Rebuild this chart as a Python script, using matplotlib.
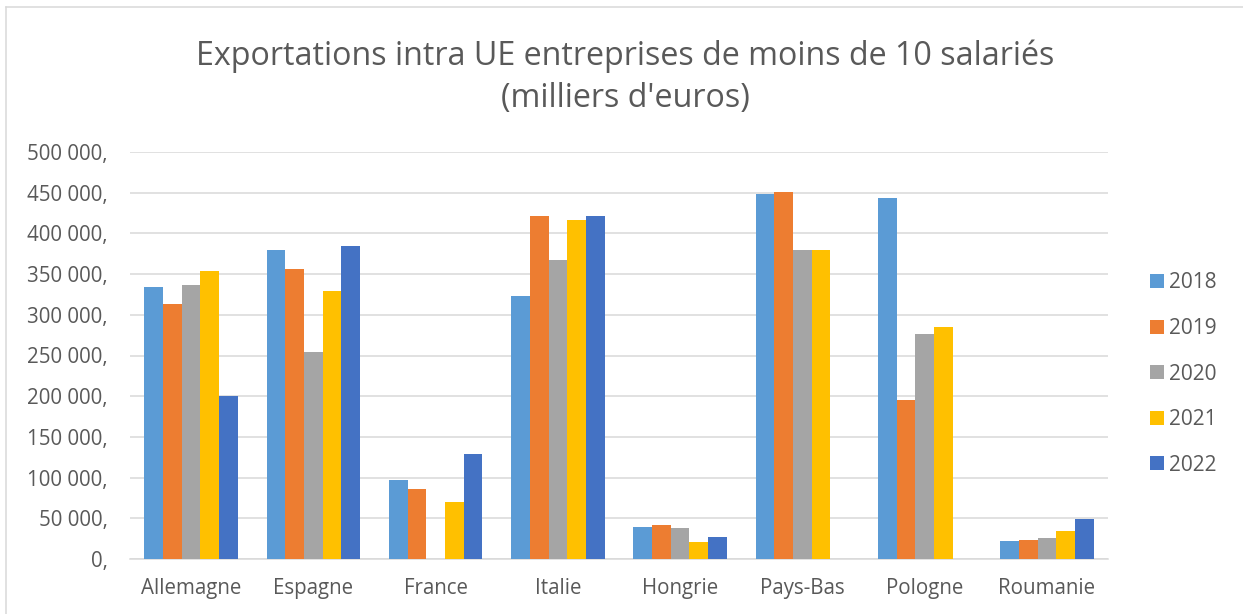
import numpy as np
import matplotlib
matplotlib.use("Agg")
import matplotlib.pyplot as plt
from matplotlib.lines import Line2D
from matplotlib.ticker import FuncFormatter

COUNTRIES = ["Allemagne", "Espagne", "France", "Italie", "Hongrie",
             "Pays-Bas", "Pologne", "Roumanie"]
YEARS = ["2018", "2019", "2020", "2021", "2022"]

# milliers d'euros, nan = missing value (no bar)
V2018 = [334000, 380000, 97300, 323000, 39000, 449000, 442900, 22200]
V2019 = [312800, 356300, 86200, 421600, 41900, 451100, 195000, 23400]
V2020 = [337000, 253700, np.nan, 367400, 38200, 379700, 275900, 26300]
V2021 = [353400, 329200, 70600, 416700, 20900, 379700, 285300, 34500]
V2022 = [200300, 384600, 128500, 421200, 27100, np.nan, np.nan, 48900]

SERIES = [V2018, V2019, V2020, V2021, V2022]
COLORS = ["#5B9BD5", "#ED7D31", "#A5A5A5", "#FFC000", "#4472C4"]

TXT = "#595959"
GRID = "#D9D9D9"
plt.rcParams["font.family"] = ["Open Sans", "DejaVu Sans"]

W, H = 1243, 614
fig = plt.figure(figsize=(W / 100, H / 100), dpi=100)
ax = fig.add_axes([130 / W, 1 - 559 / H, (1108 - 130) / W, (559 - 152) / H])

x = np.arange(len(COUNTRIES))
bw = 0.153
for k, (vals, col, yr) in enumerate(zip(SERIES, COLORS, YEARS)):
    ax.bar(x + (k - 2) * bw, vals, width=bw, color=col, label=yr, zorder=3)

ax.set_xlim(-0.5, len(COUNTRIES) - 0.5)
ax.set_ylim(0, 500000)
ax.set_yticks(np.arange(0, 500001, 50000))
ax.yaxis.set_major_formatter(
    FuncFormatter(lambda v, p: f"{int(v):,}".replace(",", " ") + ","))
ax.set_xticks(x)
ax.set_xticklabels(COUNTRIES)
ax.tick_params(axis="both", length=0, labelsize=14.8, colors=TXT)
ax.tick_params(axis="y", pad=16)
ax.tick_params(axis="x", pad=14)
ax.grid(axis="y", color=GRID, linewidth=1.1, zorder=0)
for s in ["top", "right", "left"]:
    ax.spines[s].set_visible(False)
ax.spines["bottom"].set_color(GRID)
ax.spines["bottom"].set_linewidth(1.1)

fig.text(625 / W, 1 - 56 / H, "Exportations intra UE entreprises de moins de 10 salariés",
         ha="center", va="center", fontsize=23.2, color=TXT)
fig.text(625 / W, 1 - 99 / H, "(milliers d'euros)",
         ha="center", va="center", fontsize=23.2, color=TXT)

fig.legend(loc="center left", bbox_to_anchor=(1150 / W, 1 - 374 / H),
           frameon=False, fontsize=15, labelcolor=TXT,
           handlelength=0.67, handleheight=0.67, handletextpad=0.25,
           labelspacing=1.18, borderaxespad=0, borderpad=0)

# outer chart frame (right/bottom edges are cut off in the picture)
fig.add_artist(Line2D([6 / W, 1], [1 - 7 / H, 1 - 7 / H], transform=fig.transFigure,
                      color=GRID, linewidth=1.1))
fig.add_artist(Line2D([6 / W, 6 / W], [0, 1 - 7 / H], transform=fig.transFigure,
                      color=GRID, linewidth=1.1))

fig.savefig("out.png", dpi=100)
